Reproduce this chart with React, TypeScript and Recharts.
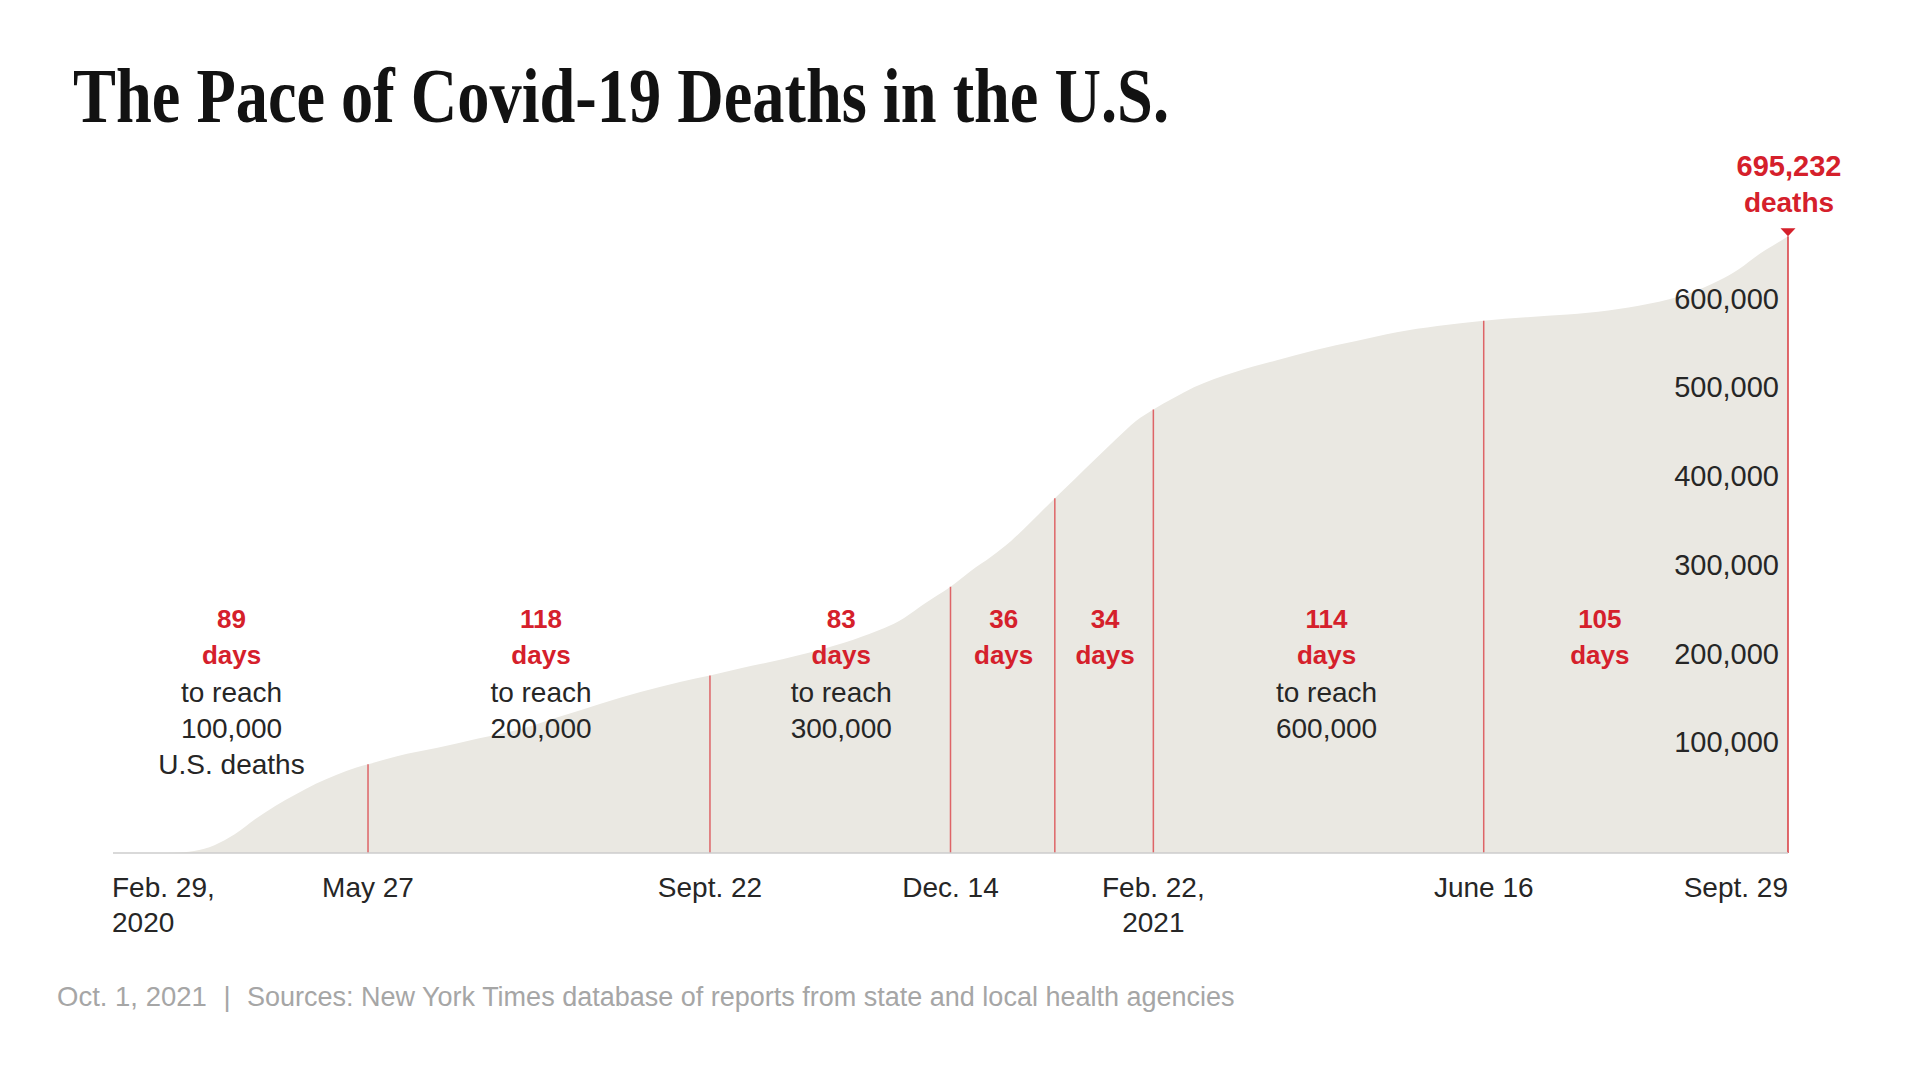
import React from "react";
import { AreaChart, Area, XAxis, YAxis, ReferenceLine, ReferenceDot } from "recharts";

// cumulative U.S. Covid-19 deaths (roughly weekly)
const SERIES_DATES = [
  "2020-02-29", "2020-03-07", "2020-03-14", "2020-03-21", "2020-03-28",
  "2020-04-04", "2020-04-11", "2020-04-18", "2020-04-25", "2020-05-02",
  "2020-05-09", "2020-05-16", "2020-05-23", "2020-05-27", "2020-06-06",
  "2020-06-20", "2020-07-04", "2020-07-18", "2020-08-01", "2020-08-15",
  "2020-08-29", "2020-09-12", "2020-09-22", "2020-10-03", "2020-10-17",
  "2020-10-31", "2020-11-14", "2020-11-28", "2020-12-05", "2020-12-14",
  "2020-12-21", "2020-12-28", "2021-01-04", "2021-01-11", "2021-01-19",
  "2021-01-26", "2021-02-02", "2021-02-09", "2021-02-16", "2021-02-22",
  "2021-03-01", "2021-03-08", "2021-03-22", "2021-04-05", "2021-04-19",
  "2021-05-03", "2021-05-17", "2021-05-31", "2021-06-16", "2021-07-01",
  "2021-07-15", "2021-07-29", "2021-08-12", "2021-08-26", "2021-09-05",
  "2021-09-12", "2021-09-19", "2021-09-24", "2021-09-29",
];
const SERIES_DEATHS = [
  1, 19, 60, 340, 2300,
  8800, 21000, 38000, 53000, 66000,
  78000, 88000, 96500, 100000, 109000,
  118500, 129000, 139000, 153500, 168000,
  181500, 193000, 200000, 208500, 218500,
  230000, 244500, 265000, 281000, 300000,
  318000, 334000, 352000, 374000, 400000,
  422000, 444000, 466000, 487000, 500000,
  513000, 525000, 542000, 555000, 567000,
  577000, 587000, 594000, 600000, 604000,
  607000, 611500, 619000, 631000, 645000,
  658000, 675000, 685000, 695232,
];

// milestones marked with red lines
const MILESTONE_DATES = ["2020-05-27", "2020-09-22", "2020-12-14", "2021-01-19", "2021-02-22", "2021-06-16", "2021-09-29"];
const MILESTONE_DEATHS = [100000, 200000, 300000, 400000, 500000, 600000, 695232];

// segment annotations
const SEGMENT_DAYS = ["89", "118", "83", "36", "34", "114", "105"];
const SEGMENT_NOTES = [
  ["to reach", "100,000", "U.S. deaths"],
  ["to reach", "200,000"],
  ["to reach", "300,000"],
  [],
  [],
  ["to reach", "600,000"],
  [],
];

const X_TICK_DATES = ["2020-02-29", "2020-05-27", "2020-09-22", "2020-12-14", "2021-02-22", "2021-06-16", "2021-09-29"];
const X_TICK_LABELS = [["Feb. 29,", "2020"], ["May 27"], ["Sept. 22"], ["Dec. 14"], ["Feb. 22,", "2021"], ["June 16"], ["Sept. 29"]];
const Y_TICKS = [100000, 200000, 300000, 400000, 500000, 600000];
const TOTAL_LABEL = ["695,232", "deaths"];

const TITLE = "The Pace of Covid-19 Deaths in the U.S.";
const FOOT_DATE = "Oct. 1, 2021";
const FOOT_SOURCE = "Sources: New York Times database of reports from state and local health agencies";

const SANS = "'Liberation Sans', Arial, sans-serif";
const SERIF = "'Liberation Serif', 'Times New Roman', serif";
const RED = "#d5202b";
const INK = "#262626";
const FOOT = "#a6a6a6";

// small pixel nudges so labels sit where the original has them
const LABEL_NUDGE = [-9, 2, 11, 1, 1, 8, -36];

const START = Date.parse("2020-02-29");
const dayIndex = (iso: string) => Math.round((Date.parse(iso) - START) / 86400000);
const END_DAY = dayIndex("2021-09-29");

const data = SERIES_DATES.map((d, i) => ({ day: dayIndex(d), deaths: SERIES_DEATHS[i] }));
const milestoneDays = MILESTONE_DATES.map(dayIndex);
const xTickDays = X_TICK_DATES.map(dayIndex);
const segmentMid = milestoneDays.map((d, i) => ((i === 0 ? 0 : milestoneDays[i - 1]) + d) / 2);

function XTick(props: any) {
  const { x, y, payload } = props;
  const i = xTickDays.indexOf(payload.value);
  if (i < 0) return null;
  const anchor = i === 0 ? "start" : i === xTickDays.length - 1 ? "end" : "middle";
  const tx = i === 0 ? x - 1 : x;
  return (
    <g>
      {X_TICK_LABELS[i].map((line, k) => (
        <text key={k} x={tx} y={y + 44 + k * 35} textAnchor={anchor} fontSize={28} fill={INK} fontFamily={SANS}>
          {line}
        </text>
      ))}
    </g>
  );
}

function YLabel(props: any) {
  const { viewBox, value } = props;
  if (!viewBox) return null;
  return (
    <text x={viewBox.x + viewBox.width - 9} y={viewBox.y - 12} textAnchor="end" fontSize={29} fill={INK} fontFamily={SANS}>
      {value.toLocaleString("en-US")}
    </text>
  );
}

function SegmentLabel(props: any) {
  const { viewBox, index } = props;
  if (!viewBox) return null;
  const cx = viewBox.x + LABEL_NUDGE[index];
  const bottom = viewBox.y + viewBox.height;
  const offsets = [-225, -189, -151, -115, -79];
  const lines = [SEGMENT_DAYS[index], "days", ...SEGMENT_NOTES[index]];
  return (
    <g>
      {lines.map((line, k) => (
        <text
          key={k}
          x={cx}
          y={bottom + offsets[k]}
          textAnchor="middle"
          fontFamily={SANS}
          fontSize={k < 2 ? 26 : 28}
          fontWeight={k < 2 ? 700 : 400}
          fill={k < 2 ? RED : INK}
        >
          {line}
        </text>
      ))}
    </g>
  );
}

function TotalMarker(props: any) {
  const { cx, cy } = props;
  if (cx == null || cy == null) return null;
  return (
    <g>
      <polygon points={`${cx - 7.5},${cy - 8} ${cx + 7.5},${cy - 8} ${cx},${cy}`} fill={RED} />
      <text x={cx + 1} y={cy - 60} textAnchor="middle" fontFamily={SANS} fontSize={29} fontWeight={700} fill={RED}>
        {TOTAL_LABEL[0]}
      </text>
      <text x={cx + 1} y={cy - 24} textAnchor="middle" fontFamily={SANS} fontSize={28} fontWeight={700} fill={RED}>
        {TOTAL_LABEL[1]}
      </text>
    </g>
  );
}

export default function App() {
  return (
    <div style={{ position: "absolute", left: 0, top: 0, width: 1921, height: 1081, background: "#fff", fontFamily: SANS }}>
      <svg width={1921} height={1081} style={{ position: "absolute", left: 0, top: 0 }}>
        <text x={73} y={122} fontFamily={SERIF} fontWeight={700} fontSize={78} fill="#121212" textLength={1096} lengthAdjust="spacingAndGlyphs">
          {TITLE}
        </text>
        <text x={57} y={1006} fontFamily={SANS} fontSize={27.5} fill={FOOT}>{FOOT_DATE}</text>
        <text x={227} y={1006} fontFamily={SANS} fontSize={27.5} fill={FOOT} textAnchor="middle">|</text>
        <text x={247} y={1006} fontFamily={SANS} fontSize={27} fill={FOOT}>{FOOT_SOURCE}</text>
      </svg>
      <div style={{ position: "absolute", left: 0, top: 0 }}>
        <AreaChart width={1921} height={1081} data={data} margin={{ top: 232, right: 133, bottom: 148, left: 113 }}>
          <XAxis
            dataKey="day"
            type="number"
            domain={[0, END_DAY]}
            ticks={xTickDays}
            interval={0}
            height={80}
            tickLine={false}
            tickSize={0}
            tickMargin={0}
            axisLine={{ stroke: "#cccccc", strokeWidth: 1.5 }}
            tick={(p: any) => <XTick {...p} />}
          />
          <YAxis type="number" domain={[0, 700000]} hide />
          <Area dataKey="deaths" type="monotone" fill="#eae8e2" fillOpacity={1} stroke="none" isAnimationActive={false} />
          {Y_TICKS.map((v) => (
            <ReferenceLine
              key={`y${v}`}
              y={v}
              stroke="none"
              ifOverflow="visible"
              label={(p: any) => <YLabel {...p} value={v} />}
            />
          ))}
          {milestoneDays.map((d, i) => (
            <ReferenceLine
              key={`m${i}`}
              segment={[{ x: d, y: 0 }, { x: d, y: MILESTONE_DEATHS[i] }]}
              stroke="#d9383e"
              strokeWidth={1.5}
              strokeOpacity={i === milestoneDays.length - 1 ? 1 : 0.75}
              ifOverflow="visible"
            />
          ))}
          {segmentMid.map((d, i) => (
            <ReferenceLine
              key={`l${i}`}
              x={d}
              stroke="none"
              ifOverflow="visible"
              label={(p: any) => <SegmentLabel {...p} index={i} />}
            />
          ))}
          <ReferenceDot
            x={END_DAY}
            y={MILESTONE_DEATHS[MILESTONE_DEATHS.length - 1]}
            r={0}
            ifOverflow="visible"
            shape={(p: any) => <TotalMarker {...p} />}
          />
        </AreaChart>
      </div>
    </div>
  );
}
